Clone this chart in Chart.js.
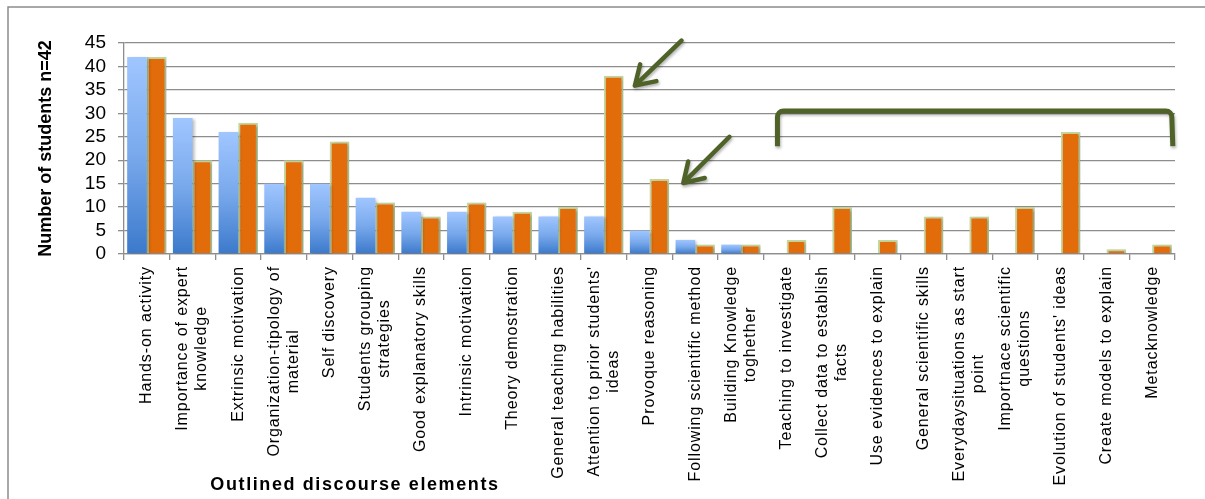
<!DOCTYPE html>
<html>
<head>
<meta charset="utf-8">
<script src="https://cdn.jsdelivr.net/npm/chart.js@4.4.1/dist/chart.umd.min.js"></script>
<style>
  body { margin: 0; background: #fff; }
  #wrap { position: relative; width: 1205px; height: 499px; }
</style>
</head>
<body>
<div id="wrap"><canvas id="chart" width="1205" height="499"></canvas></div>
<script>
const categories = [
  "Hands-on activity",
  ["Importance of expert", "knowledge"],
  "Extrinsic motivation",
  ["Organization-tipology of", "material"],
  "Self discovery",
  ["Students grouping", "strategies"],
  "Good explanatory skills",
  "Intrinsic motivation",
  "Theory demostration",
  "General teaching habilities",
  ["Attention to prior students'", "ideas"],
  "Provoque reasoning",
  "Following scientific method",
  ["Building Knowledge", "toghether"],
  "Teaching to investigate",
  ["Collect data to establish", "facts"],
  "Use evidences to explain",
  "General scientific skills",
  ["Everydaysituations as start", "point"],
  ["Importnace scientific", "questions"],
  "Evolution of students' ideas",
  "Create models to explain",
  "Metacknowledge"
];
const seriesBlue   = [42, 29, 26, 15, 15, 12, 9, 9, 8, 8, 8, 5, 3, 2, 0, 0, 0, 0, 0, 0, 0, 0, 0];
const seriesOrange = [42, 20, 28, 20, 24, 11, 8, 11, 9, 10, 38, 16, 2, 2, 3, 10, 3, 8, 8, 10, 26, 1, 2];
const yTicks = [0, 5, 10, 15, 20, 25, 30, 35, 40, 45];

// annotation anchors in data units: [category index, value]
const arrows = [
  { tail: [11.7, 45.5], tip: [10.68, 35.9] },
  { tail: [12.75, 25], tip: [11.74, 15.15] }
];
const bracket = { from: 13.8, to: 22.43, top: 30.5, bottom: 23 };

const FONT = '"Liberation Sans", Arial, sans-serif';
const GRID = '#8d8d8d';
const GREEN = '#4f6228';

function blueFill(c) {
  const chart = c.chart;
  const y = chart.scales.y;
  if (!chart.chartArea || !y || !c.raw) return '#78a8ec';
  const top = y.getPixelForValue(c.raw);
  const base = y.getPixelForValue(0);
  const g = chart.ctx.createLinearGradient(0, top, 0, base);
  g.addColorStop(0, '#a0c6ff');
  g.addColorStop(0.5, '#79a9ec');
  g.addColorStop(1, '#3b79cb');
  return g;
}

function catX(scale, f) {
  const p0 = scale.getPixelForValue(0), p1 = scale.getPixelForValue(1);
  return p0 + f * (p1 - p0);
}

const decorations = {
  id: 'decorations',
  beforeDraw(chart) {
    const ctx = chart.ctx;
    ctx.save();
    ctx.strokeStyle = '#8c8c8c';
    ctx.lineWidth = 1.5;
    ctx.beginPath();
    ctx.moveTo(8, 499);
    ctx.lineTo(8, 7);
    ctx.lineTo(1205, 7);
    ctx.stroke();
    ctx.restore();
  },
  beforeDatasetsDraw(chart) {
    const ctx = chart.ctx;
    ctx.save();
    ctx.shadowColor = 'rgba(0,0,0,0.28)';
    ctx.shadowBlur = 3;
    ctx.shadowOffsetX = 2;
    ctx.shadowOffsetY = 1;
  },
  afterDatasetsDraw(chart) {
    const ctx = chart.ctx;
    ctx.restore();
    const x = chart.scales.x, y = chart.scales.y;
    ctx.save();
    ctx.strokeStyle = GREEN;
    ctx.lineCap = 'round';
    ctx.lineJoin = 'round';
    ctx.shadowColor = 'rgba(0,0,0,0.3)';
    ctx.shadowBlur = 3;
    ctx.shadowOffsetX = 1;
    ctx.shadowOffsetY = 2;
    ctx.lineWidth = 4.5;
    arrows.forEach(a => {
      const tx = catX(x, a.tail[0]), ty = y.getPixelForValue(a.tail[1]);
      const hx = catX(x, a.tip[0]), hy = y.getPixelForValue(a.tip[1]);
      const ang = Math.atan2(ty - hy, tx - hx);
      const len = 22, spread = 0.56;
      ctx.beginPath();
      ctx.moveTo(tx, ty);
      ctx.lineTo(hx, hy);
      ctx.moveTo(hx + len * Math.cos(ang - spread), hy + len * Math.sin(ang - spread));
      ctx.lineTo(hx, hy);
      ctx.lineTo(hx + len * Math.cos(ang + spread), hy + len * Math.sin(ang + spread));
      ctx.stroke();
    });
    ctx.lineWidth = 5;
    ctx.lineCap = 'butt';
    const bx0 = catX(x, bracket.from), bx1 = catX(x, bracket.to);
    const byT = y.getPixelForValue(bracket.top), byB = y.getPixelForValue(bracket.bottom);
    ctx.beginPath();
    ctx.moveTo(bx0, byB);
    ctx.arcTo(bx0, byT, bx0 + 10, byT, 6);
    ctx.arcTo(bx1, byT, bx1, byT + 10, 6);
    ctx.lineTo(bx1 + 1, byB);
    ctx.stroke();
    ctx.restore();
  },
  afterDraw(chart) {
    const ctx = chart.ctx;
    const x = chart.scales.x;
    ctx.save();
    ctx.fillStyle = '#000';
    ctx.font = '16px ' + FONT;
    ctx.letterSpacing = '0.9px';
    ctx.textAlign = 'center';
    ctx.textBaseline = 'middle';
    const top = chart.chartArea.bottom + 12;
    const lh = 19;
    categories.forEach((lab, i) => {
      const lines = Array.isArray(lab) ? lab : [lab];
      const maxLen = Math.max(...lines.map(l => ctx.measureText(l).width));
      ctx.save();
      ctx.translate(x.getPixelForValue(i), top + maxLen / 2);
      ctx.rotate(-Math.PI / 2);
      lines.forEach((l, j) => ctx.fillText(l, 0, (j - (lines.length - 1) / 2) * lh));
      ctx.restore();
    });
    ctx.font = 'bold 18px ' + FONT;
    ctx.letterSpacing = '1.6px';
    ctx.textAlign = 'center';
    ctx.fillText('Outlined discourse elements', chart.chartArea.left + 231, 485);
    ctx.restore();
  }
};

new Chart(document.getElementById('chart'), {
  type: 'bar',
  data: {
    labels: categories,
    datasets: [
      {
        label: 'Series 1',
        data: seriesBlue,
        backgroundColor: blueFill,
        borderWidth: 0,
        barPercentage: 1,
        categoryPercentage: 0.86
      },
      {
        label: 'Series 2',
        data: seriesOrange,
        backgroundColor: '#e36c0a',
        borderColor: '#c3d69b',
        borderWidth: 2,
        barPercentage: 1,
        categoryPercentage: 0.86
      }
    ]
  },
  options: {
    responsive: false,
    devicePixelRatio: 1,
    animation: false,
    layout: { padding: { left: 28, top: 43, right: 30, bottom: 0 } },
    plugins: {
      legend: { display: false },
      tooltip: { enabled: false }
    },
    scales: {
      x: {
        ticks: { display: false },
        grid: { drawOnChartArea: false, color: GRID, lineWidth: 1.3, tickLength: 6 },
        border: { color: GRID, width: 1.3 },
        afterFit(scale) { scale.height = 245; }
      },
      y: {
        min: yTicks[0],
        max: yTicks[yTicks.length - 1],
        afterBuildTicks(scale) { scale.ticks = yTicks.map(v => ({ value: v })); },
        ticks: {
          color: '#000',
          padding: 12,
          autoSkip: false,
          font: { family: FONT, size: 19, lineHeight: 1 }
        },
        grid: { color: GRID, lineWidth: 1.3, tickLength: 6 },
        border: { color: GRID, width: 1.3 },
        title: {
          display: true,
          text: 'Number of students n=42',
          color: '#000',
          padding: { top: 7, bottom: 0 },
          font: { family: FONT, size: 18, weight: 'bold' }
        },
        afterFit(scale) { scale.width = 96; }
      }
    }
  },
  plugins: [decorations]
});
</script>
</body>
</html>
